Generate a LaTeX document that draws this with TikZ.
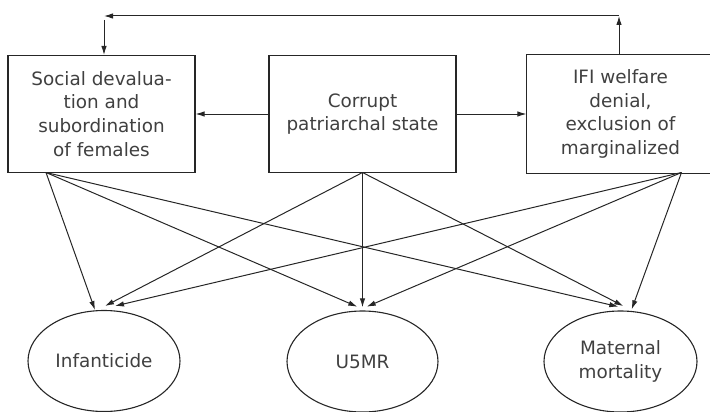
\documentclass[tikz,border=0pt]{standalone}
\usepackage{fontspec}
\setmainfont{DejaVu Sans}
\usetikzlibrary{arrows.meta,shapes.geometric}
\begin{document}
\begin{tikzpicture}[x=1pt,y=-1pt,
  ln/.style={line width=1pt,draw=black!85},
  arr/.style={ln,-{Latex[length=9pt,width=5.5pt]}},
  txt/.style={font=\fontsize{18.4}{23.8}\selectfont,text=black!75,align=center},
  box/.style={ln,line width=1.1pt,rectangle,inner sep=0pt,minimum width=187pt,minimum height=117pt,txt},
  oval/.style={ln,line width=1.1pt,ellipse,inner sep=0pt,minimum height=101pt,txt}]
\useasboundingbox (0,0) rectangle (710,412);
\node[box] (L) at (101.5,114) {Social devalua-\\tion and\\subordination\\of females};
\node[box] (M) at (362.5,114) {Corrupt\\patriarchal state};
\node[box,draw=none] (R) at (620.5,114) {IFI welfare\\denial,\\exclusion of\\marginalized};
\draw[ln,line width=1.1pt] ([xshift=8pt]R.north east) -- (R.north west) -- (R.south west) -- ([xshift=8pt]R.south east);
\node[oval,minimum width=152pt] (I) at (104,361) {Infanticide};
\node[oval,minimum width=151pt] (U) at (362.5,361.5) {U5MR};
\node[oval,minimum width=153pt] (Mm) at (620.5,361.5) {Maternal\\mortality};
% feedback loop
\coordinate (tr) at (619,16);
\coordinate (tl) at (104,16);
\coordinate (tl2) at (104,20);
\draw[arr] (tr |- R.north) -- (tr);
\draw[arr] (tr) -- (tl);
\draw[arr] (tl2) -- (tl2 |- L.north);
% horizontal
\draw[arr] (M.west) -- (L.east);
\draw[arr] (M.east) -- (R.west);
% starts
\coordinate (ls) at (46,172.5);
\coordinate (ms) at (362.5,172.5);
\coordinate (rs) at (681.5,172.5);
% tips
\coordinate (i1) at (95,310);
\coordinate (i2) at (105,306);
\coordinate (i3) at (115,306);
\coordinate (u1) at (357.3,306.7);
\coordinate (u2) at (362.5,307.3);
\coordinate (u3) at (366.7,306.7);
\coordinate (m1) at (618.3,306.7);
\coordinate (m2) at (623.3,306);
\coordinate (m3) at (631.7,309.3);
\draw[arr] (ls) -- (i1);
\draw[arr] (ls) -- (u1);
\draw[arr] (ls) -- (m1);
\draw[arr] (ms) -- (i2);
\draw[arr] (ms) -- (u2);
\draw[arr] (ms) -- (m2);
\draw[arr] (rs) -- (i3);
\draw[arr] (rs) -- (u3);
\draw[arr] (rs) -- (m3);
\end{tikzpicture}
\end{document}
